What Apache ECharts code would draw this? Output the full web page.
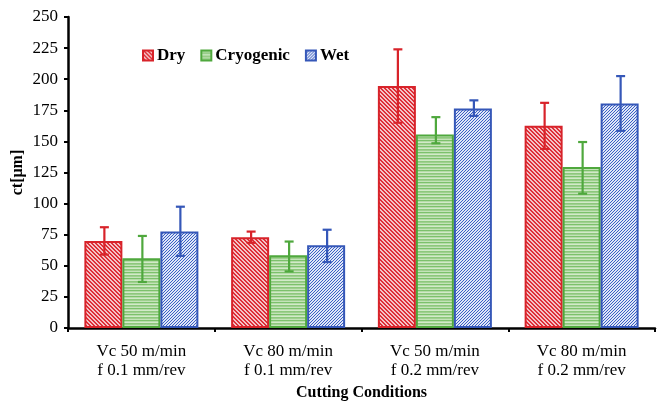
<!DOCTYPE html>
<html>
<head>
<meta charset="utf-8">
<script src="https://cdn.jsdelivr.net/npm/echarts@6/dist/echarts.min.js"></script>
<style>html,body{margin:0;padding:0;background:#fff;}#c{width:659px;height:403px;}</style>
</head>
<body>
<div id="c"></div>
<script>
// ---- data ----
var categories = ['Vc 50 m/min\nf 0.1 mm/rev', 'Vc 80 m/min\nf 0.1 mm/rev', 'Vc 50 m/min\nf 0.2 mm/rev', 'Vc 80 m/min\nf 0.2 mm/rev'];
var seriesNames = ['Dry', 'Cryogenic', 'Wet'];
var dryValues = [70, 73, 194.5, 162.5];
var cryoValues = [56, 58.5, 155.5, 129.5];
var wetValues = [77.5, 66.5, 176.5, 180.5];
var dryErrUp = [11, 4.5, 29.5, 18.5];
var dryErrDown = [11, 4.5, 29.5, 18.5];
var cryoErrUp = [18, 11, 14, 20];
var cryoErrDown = [19, 13, 7, 21.5];
var wetErrUp = [20, 12.5, 6.5, 22];
var wetErrDown = [19.5, 13.5, 6, 22];
var yTicks = [0, 25, 50, 75, 100, 125, 150, 175, 200, 225, 250];

// ---- styles ----
var FONT = '"Liberation Serif", "Times New Roman", serif';
var BAR_W = 38;
var borderColors = ['#d8232a', '#4fa83d', '#3557b8'];

function makePattern(kind) {
  var c = document.createElement('canvas');
  var ctx = c.getContext('2d');
  if (kind === 'dry') {
    c.width = 4; c.height = 4;
    ctx.fillStyle = '#f4c3c6'; ctx.fillRect(0, 0, 4, 4);
    ctx.fillStyle = '#de2f38';
    for (var i = 0; i < 4; i++) { ctx.fillRect(i, i, 1, 1); ctx.fillRect((i + 1) % 4, i, 1, 1); }
  } else if (kind === 'cryo') {
    c.width = 4; c.height = 6;
    var rows = ['#9fd08f', '#c4e3b9', '#7cc16b', '#b5dca8', '#d2eac8', '#8dc87c'];
    for (var r = 0; r < 6; r++) { ctx.fillStyle = rows[r]; ctx.fillRect(0, r, 4, 1); }
  } else {
    c.width = 3; c.height = 3;
    ctx.fillStyle = '#dfe6f7'; ctx.fillRect(0, 0, 3, 3);
    ctx.fillStyle = '#3a5fc4';
    for (var j = 0; j < 3; j++) { ctx.fillRect(2 - j, j, 1, 1); }
  }
  return { image: c, repeat: 'repeat' };
}
var patterns = [makePattern('dry'), makePattern('cryo'), makePattern('wet')];

var valueSets = [dryValues, cryoValues, wetValues];
var errUpSets = [dryErrUp, cryoErrUp, wetErrUp];
var errDownSets = [dryErrDown, cryoErrDown, wetErrDown];

var series = [];
for (var s = 0; s < 3; s++) {
  series.push({
    name: seriesNames[s],
    type: 'bar',
    barWidth: BAR_W,
    barGap: '0%',
    data: valueSets[s],
    itemStyle: { color: patterns[s], borderColor: borderColors[s], borderWidth: 2 },
    emphasis: { disabled: true },
    z: 2
  });
}
for (var s2 = 0; s2 < 3; s2++) {
  (function (si) {
    var d = [];
    for (var k = 0; k < categories.length; k++) {
      d.push([k, valueSets[si][k] - errDownSets[si][k], valueSets[si][k] + errUpSets[si][k]]);
    }
    series.push({
      type: 'custom',
      name: seriesNames[si] + ' err',
      data: d,
      z: 5,
      silent: true,
      renderItem: function (params, api) {
        var lo = api.coord([api.value(0), api.value(1)]);
        var hi = api.coord([api.value(0), api.value(2)]);
        var x = lo[0] + (si - 1) * BAR_W + 1;
        var cap = 4.5;
        var st = { stroke: borderColors[si], lineWidth: 2.2 };
        return {
          type: 'group',
          children: [
            { type: 'line', shape: { x1: x, y1: hi[1], x2: x, y2: lo[1] }, style: st },
            { type: 'line', shape: { x1: x - cap, y1: hi[1], x2: x + cap, y2: hi[1] }, style: st },
            { type: 'line', shape: { x1: x - cap, y1: lo[1], x2: x + cap, y2: lo[1] }, style: st }
          ]
        };
      }
    });
  })(s2);
}

var chart = echarts.init(document.getElementById('c'), null, { renderer: 'canvas' });
chart.setOption({
  animation: false,
  backgroundColor: '#fff',
  textStyle: { fontFamily: FONT },
  grid: { left: 68, right: 4, top: 17, bottom: 75, containLabel: false, outerBoundsMode: 'none' },
  legend: {
    data: seriesNames,
    left: 137, top: 42,
    itemWidth: 10, itemHeight: 10, itemGap: 15,
    icon: 'rect',
    textStyle: { fontFamily: FONT, fontWeight: 'bold', fontSize: 17, color: '#000', padding: [0, 0, 0, -1] }
  },
  xAxis: {
    type: 'category',
    data: categories,
    name: 'Cutting Conditions',
    nameLocation: 'middle',
    nameGap: 57,
    nameMoveOverlap: false,
    nameTextStyle: { fontFamily: FONT, fontWeight: 'bold', fontSize: 16, color: '#000' },
    axisLine: { lineStyle: { color: '#000', width: 2.5 } },
    axisTick: { show: true, length: 4, lineStyle: { color: '#000', width: 2 } },
    axisLabel: { fontFamily: FONT, fontSize: 17, color: '#000', lineHeight: 19, margin: 14 },
    splitLine: { show: false }
  },
  yAxis: {
    type: 'value',
    min: yTicks[0], max: yTicks[yTicks.length - 1], interval: yTicks[1] - yTicks[0],
    name: 'ct[μm]',
    nameLocation: 'middle',
    nameGap: 42,
    nameMoveOverlap: false,
    nameRotate: 90,
    nameTextStyle: { fontFamily: FONT, fontWeight: 'bold', fontSize: 16, color: '#000' },
    axisLine: { show: true, lineStyle: { color: '#000', width: 2.5 } },
    axisTick: { show: true, length: 4, lineStyle: { color: '#000', width: 2 } },
    axisLabel: { fontFamily: FONT, fontSize: 17, color: '#000', margin: 10 },
    splitLine: { show: false }
  },
  series: series
});
</script>
</body>
</html>
